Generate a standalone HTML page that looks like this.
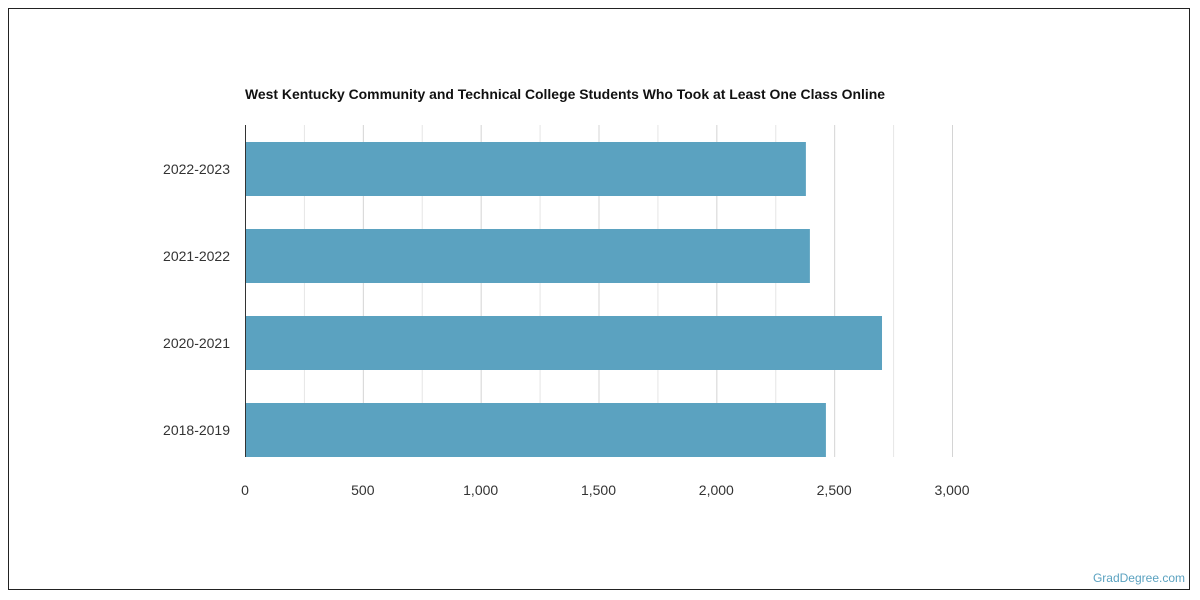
<!DOCTYPE html>
<html><head><meta charset="utf-8"><style>
body{margin:0;background:#fff;font-family:"Liberation Sans",sans-serif}
svg{display:block}
</style></head><body>
<svg width="1200" height="600">
<rect x="8.5" y="8.5" width="1181" height="581" fill="#fff" stroke="#222"/>
<text x="245" y="99" font-size="14" font-weight="bold" fill="#111" textLength="640" lengthAdjust="spacingAndGlyphs">West Kentucky Community and Technical College Students Who Took at Least One Class Online</text>
<g id="grid"></g><g id="bars"></g><g id="ylabels"></g><g id="xlabels"></g>
<line x1="245.5" y1="125" x2="245.5" y2="457" stroke="#333"/>
<text x="1185" y="582" font-size="12" fill="#5ba2c0" text-anchor="end">GradDegree.com</text>
</svg>
<script>
const categories=["2022-2023","2021-2022","2020-2021","2018-2019"];
const values=[2380,2397,2703,2465];
const xTicks=[0,500,1000,1500,2000,2500,3000];
const xTickLabels=["0","500","1,000","1,500","2,000","2,500","3,000"];
const NS="http://www.w3.org/2000/svg";
const x0=245,x1=952,vmax=3000,plotTop=125,band=87,bh=54;
const xs=v=>x0+(v/vmax)*(x1-x0);
function mk(t,a,p){const e=document.createElementNS(NS,t);for(const k in a)e.setAttribute(k,a[k]);document.getElementById(p).appendChild(e);return e;}
for(let v=250;v<=vmax;v+=250){
 const l=mk("line",{x1:xs(v)+.5,x2:xs(v)+.5,y1:plotTop,y2:457,stroke:v%500?"#e6e6e6":"#d4d4d4"},"grid");
 
 
}
xTicks.forEach((v,i)=>{
 const t=mk("text",{x:xs(v),y:495,"font-size":14,fill:"#333","text-anchor":"middle"},"xlabels");
 t.textContent=xTickLabels[i];
 
 
});
categories.forEach((c,i)=>{
 const y=plotTop+17+i*band;
 const r=mk("rect",{x:x0+1,y:y,width:xs(values[i])-x0-1,height:bh,fill:"#5ba2c0"},"bars");
 
 
 const t=mk("text",{x:230,y:y+bh/2+5,"font-size":14,fill:"#333","text-anchor":"end"},"ylabels");
 t.textContent=c;
 
 
});
</script>
</body></html>
